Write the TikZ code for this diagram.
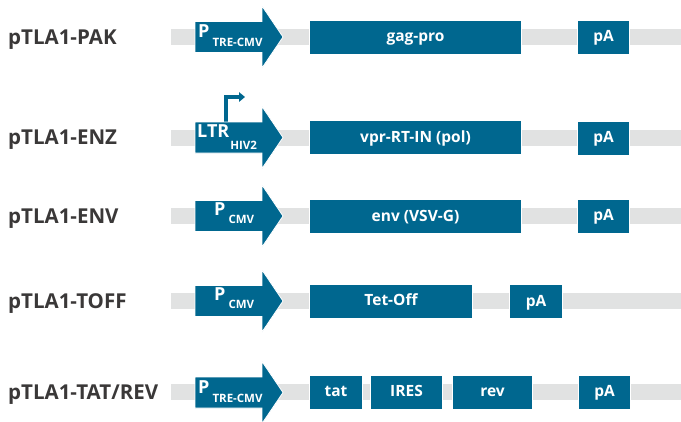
\documentclass[tikz,border=0pt]{standalone}
\usepackage{fontspec}
\setmainfont{Open Sans}
\usetikzlibrary{arrows.meta}
\definecolor{gblue}{HTML}{00678F}
\definecolor{barcol}{HTML}{E1E2E2}
\definecolor{labcol}{HTML}{3A3838}
\tikzset{
  lbl/.style={anchor=base west, text=labcol, font=\fontsize{20.5}{20}\selectfont\bfseries, inner sep=0pt},
  gene/.style={fill=gblue, draw=white, line width=1pt, text=white,
    font=\fontsize{15.5}{15}\selectfont\bfseries, text height=11pt, text depth=2pt,
    inner sep=0pt, anchor=west, minimum height=34pt},
  barline/.style={fill=barcol},
  promshape/.style={fill=gblue, draw=white, line width=0.8pt},
  promtext/.style={anchor=base west, text=white, inner sep=0pt, font=\fontsize{18}{18}\selectfont\bfseries},
  pics/prom/.style={code={
    \filldraw[promshape] (0,-15.5) -- (67,-15.5) -- (67,-31) -- (88,0) -- (67,31) -- (67,15.5) -- (0,15.5) -- cycle;
  }}
}
\newcommand\subfont{\fontsize{11.5}{11}\selectfont}
\begin{document}
\begin{tikzpicture}[x=1pt,y=-1pt]
\useasboundingbox (0,0) rectangle (681,421);

% ---------- PAK ----------
\fill[barline] (171,29) rectangle (681,45);
\node[lbl] (lpak) at (8,44) {pTLA1-PAK};
\pic at (195,37) {prom};
\node[promtext] (ppak) at (198,37.5) {P\hspace{3pt}\raisebox{-9pt}{\subfont TRE-CMV}};
\node[gene, minimum width=212pt] (gagpro) at (309,37) {gag-pro};
\node[gene, minimum width=52pt] (papak) at (577,37) {pA};

% ---------- ENZ ----------
\fill[barline] (171,129.5) rectangle (681,145.5);
\node[lbl] (lenz) at (8,144.5) {pTLA1-ENZ};
\coordinate (tss) at (226,122);
\coordinate (tssend) at (245,97);
\draw[gblue, line width=3.3pt, -{Triangle[length=6pt,width=9.5pt]}] (tss) |- (tssend);
\pic at (195,137.5) {prom};
\node[promtext] (penz) at (197,137.7) {LTR\hspace{1pt}\raisebox{-11.5pt}{\subfont HIV2}};
\node[gene, minimum width=212pt] (pol) at (309,137.5) {vpr-RT-IN (pol)};
\node[gene, minimum width=52pt] (paenz) at (577,138) {pA};

% ---------- ENV ----------
\fill[barline] (171,208) rectangle (681,224);
\node[lbl] (lenv) at (8,223) {pTLA1-ENV};
\pic at (195,216) {prom};
\node[promtext] (penv) at (214,215) {P\hspace{3pt}\raisebox{-8pt}{\subfont CMV}};
\node[gene, minimum width=212pt] (env) at (309,216.5) {env (VSV-G)};
\node[gene, minimum width=52pt] (paenv) at (577,216) {pA};

% ---------- TOFF ----------
\fill[barline] (171,293) rectangle (681,309);
\node[lbl] (ltoff) at (8,308) {pTLA1-TOFF};
\pic at (195,301) {prom};
\node[promtext] (ptoff) at (214,300) {P\hspace{3pt}\raisebox{-8pt}{\subfont CMV}};
\node[gene, minimum width=163pt] (tetoff) at (309,301) {Tet-Off};
\node[gene, minimum width=53pt] (patoff) at (509,301.5) {pA};

% ---------- TAT/REV ----------
\fill[barline] (171,384) rectangle (681,400);
\node[lbl] (ltat) at (8,399) {pTLA1-TAT/REV};
\pic at (195,392.5) {prom};
\node[promtext] (ptat) at (198,393) {P\hspace{3pt}\raisebox{-9pt}{\subfont TRE-CMV}};
\node[gene, minimum width=53pt] (tat) at (309,392) {tat};
\node[gene, minimum width=72pt] (ires) at (370,392) {IRES};
\node[gene, minimum width=80pt] (rev) at (452,392) {rev};
\node[gene, minimum width=52pt] (patat) at (578,392) {pA};
\end{tikzpicture}
\end{document}
